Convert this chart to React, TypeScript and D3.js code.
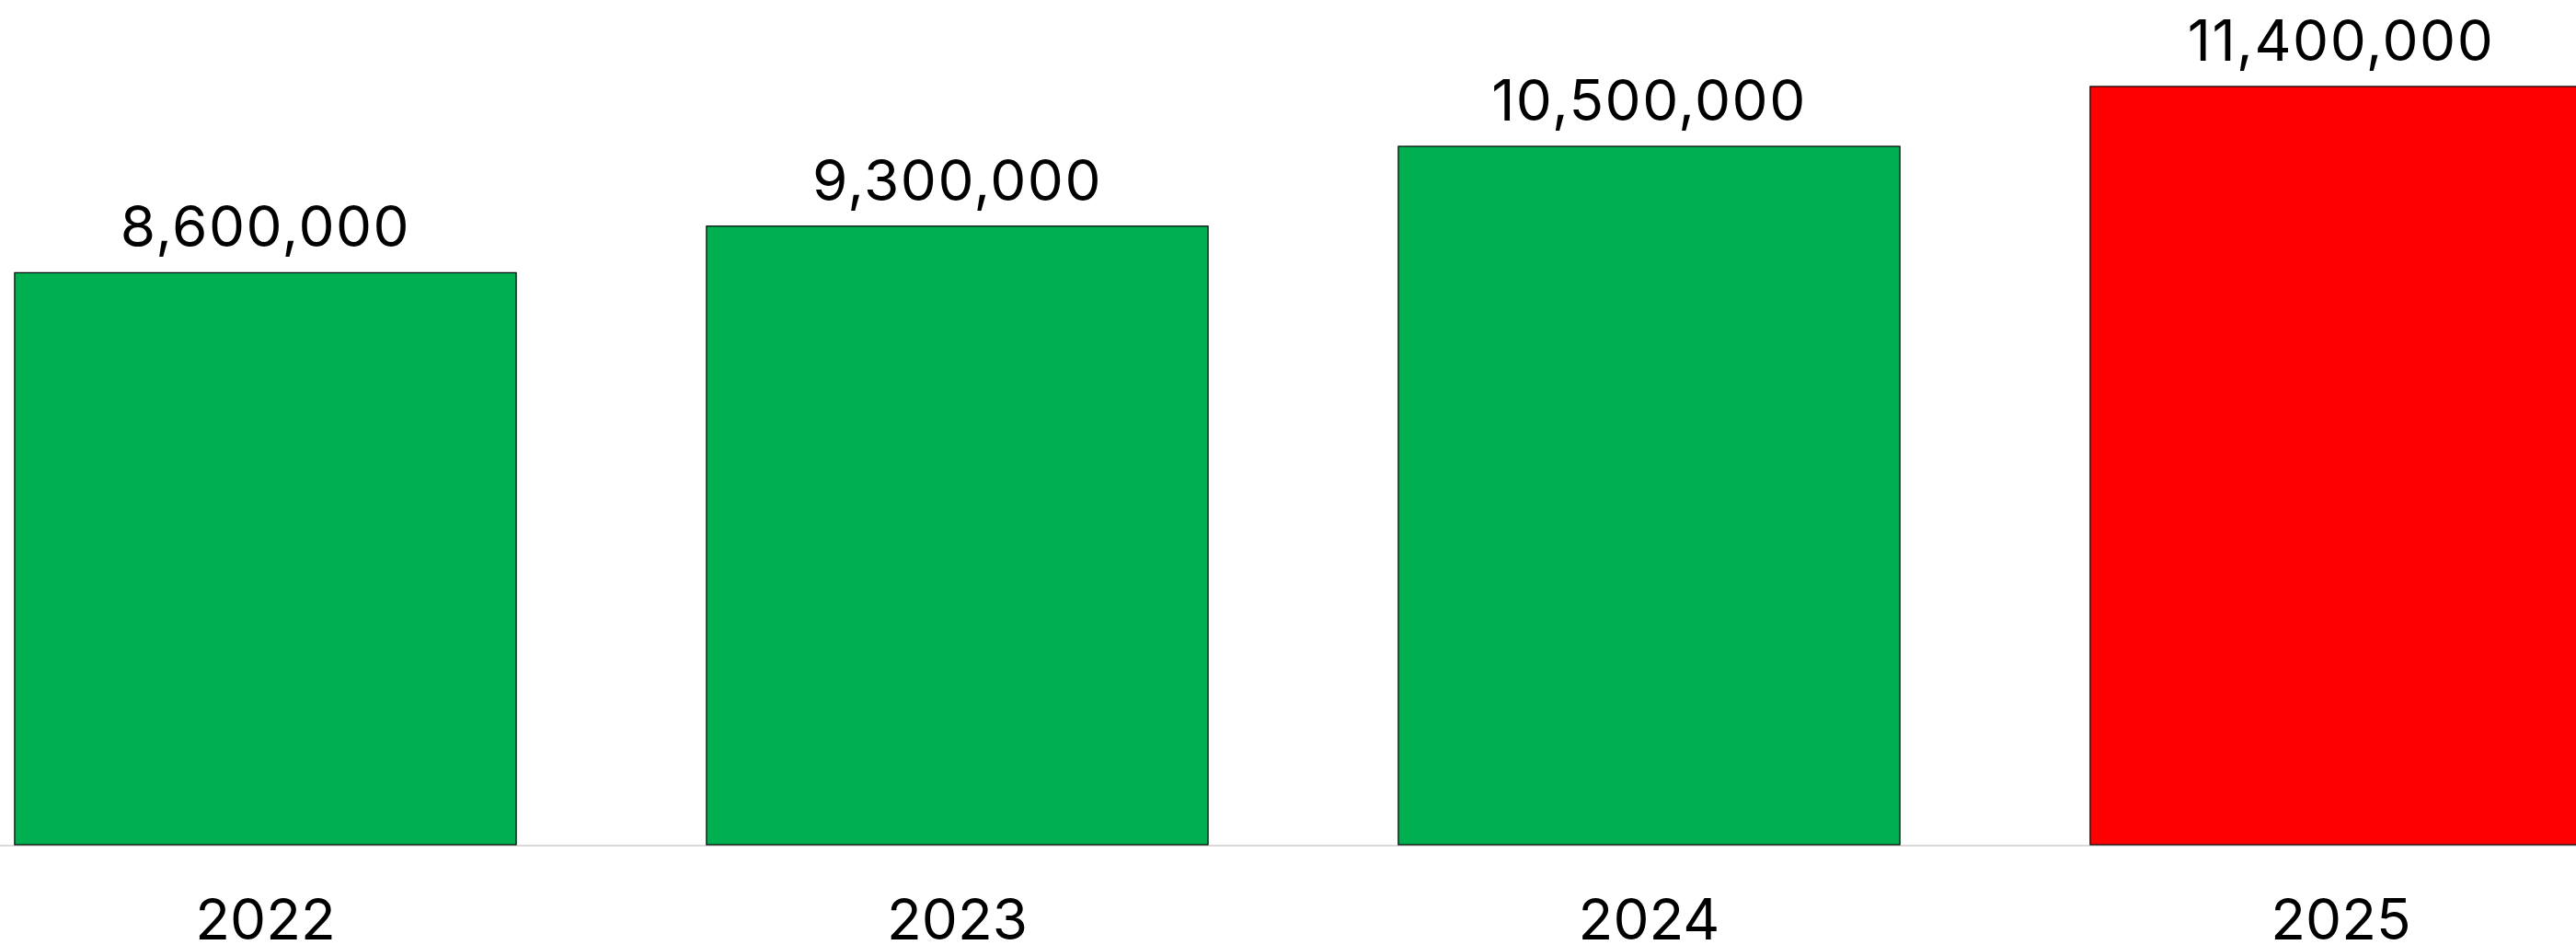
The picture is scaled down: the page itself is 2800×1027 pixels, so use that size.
import React from "react";
import * as d3 from "d3";

const years = ["2022", "2023", "2024", "2025"];
const values = [8600000, 9300000, 10500000, 11400000];
const colors = ["#00B050", "#00B050", "#00B050", "#FF0000"];

const W = 2800;
const H = 1027;
const baseline = 918;

export default function App() {
  const x = d3
    .scaleBand<string>()
    .domain(years)
    .range([-87.5, -87.5 + 4 * 752])
    .paddingInner(0.275)
    .paddingOuter(0.1375);
  const y = d3.scaleLinear().domain([0, 12700000]).range([baseline, 0]);
  const fmt = d3.format(",");
  const font = "Inter, 'DejaVu Sans', sans-serif";

  return (
    <svg
      width={W}
      height={H}
      style={{ position: "absolute", left: 0, top: 0, background: "#fff" }}
    >
      <rect x={0} y={0} width={W} height={H} fill="#fff" />
      <line x1={0} x2={W} y1={baseline + 1} y2={baseline + 1} stroke="#d9d9d9" strokeWidth={2} />
      {years.map((yr, i) => {
        const bx = x(yr)!;
        const by = y(values[i]);
        return (
          <g key={yr}>
            <rect
              x={bx}
              y={by}
              width={x.bandwidth()}
              height={baseline - by}
              fill={colors[i]}
              stroke="#000"
              strokeWidth={1.2}
            />
            <text
              x={bx + x.bandwidth() / 2}
              y={by - 28}
              textAnchor="middle"
              fontFamily={font}
              fontSize={62}
              letterSpacing={1.5}
              fill="#000"
            >
              {fmt(values[i])}
            </text>
            <text
              x={bx + x.bandwidth() / 2}
              y={1021}
              textAnchor="middle"
              fontFamily={font}
              fontSize={62}
              fill="#000"
            >
              {yr}
            </text>
          </g>
        );
      })}
    </svg>
  );
}
